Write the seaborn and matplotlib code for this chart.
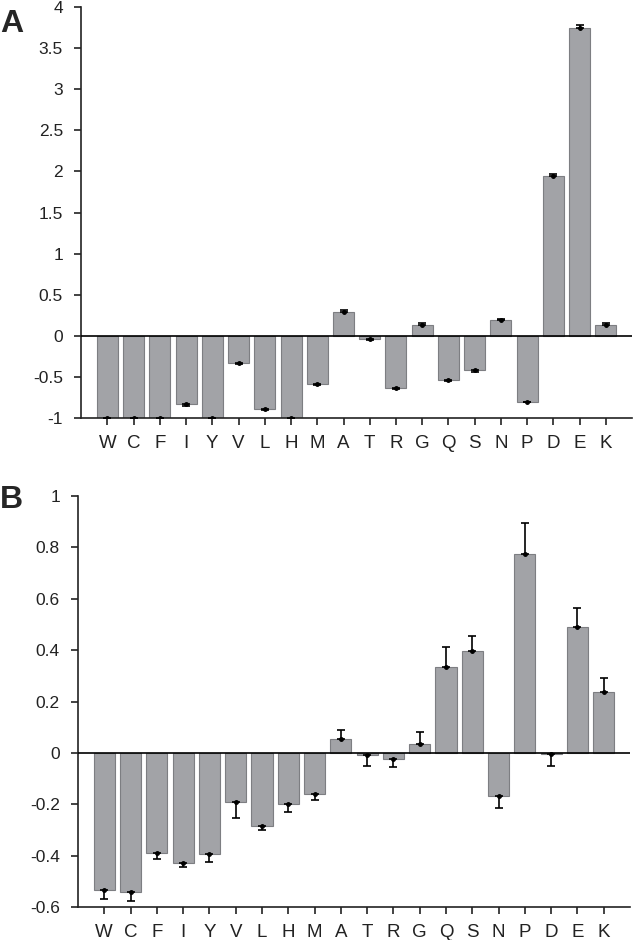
import matplotlib
matplotlib.use("Agg")
import matplotlib.pyplot as plt
import seaborn as sns
import numpy as np

residues = ['W', 'C', 'F', 'I', 'Y', 'V', 'L', 'H', 'M', 'A',
            'T', 'R', 'G', 'Q', 'S', 'N', 'P', 'D', 'E', 'K']

# panel A
vals_a = [-1.0, -1.0, -1.0, -0.83, -1.0, -0.33, -0.89, -1.0, -0.59, 0.29,
          -0.04, -0.64, 0.13, -0.54, -0.42, 0.19, -0.80, 1.94, 3.75, 0.13]
err_a = [0.01, 0.01, 0.01, 0.02, 0.01, 0.01, 0.01, 0.01, 0.01, 0.02,
         0.01, 0.01, 0.02, 0.01, 0.02, 0.02, 0.01, 0.03, 0.03, 0.02]

# panel B
vals_b = [-0.535, -0.542, -0.389, -0.428, -0.393, -0.193, -0.283, -0.199, -0.16, 0.053,
          -0.01, -0.023, 0.035, 0.336, 0.398, -0.166, 0.774, -0.005, 0.489, 0.236]
err_b = [0.032, 0.033, 0.025, 0.015, 0.03, 0.06, 0.016, 0.03, 0.025, 0.035,
         0.04, 0.03, 0.045, 0.077, 0.058, 0.05, 0.12, 0.045, 0.074, 0.054]

sns.set_style("ticks")
plt.rcParams['font.family'] = ['Liberation Sans', 'DejaVu Sans']

bar_color = '#a2a3a7'
edge_color = '#7d7e82'

fig = plt.figure(figsize=(6.34, 9.4), dpi=100)
ax_a = fig.add_axes([0.128, 0.5553, 0.869, 0.4372])
ax_b = fig.add_axes([0.123, 0.0351, 0.8707, 0.4372])


def draw_panel(ax, vals, errs, ylim, yticks):
    sns.barplot(x=residues, y=vals, color=bar_color, edgecolor=edge_color,
                linewidth=0.8, width=0.8, saturation=1, ax=ax)
    vals = np.array(vals)
    errs = np.array(errs)
    lower = np.where(vals < 0, errs, 0)
    upper = np.where(vals >= 0, errs, 0)
    ax.errorbar(np.arange(len(vals)), vals, yerr=[lower, upper], fmt='o',
                ms=2.5, color='black', ecolor='black', elinewidth=1.2,
                capsize=3, capthick=1.2, zorder=5)
    ax.axhline(0, color='black', lw=1.2, zorder=4)
    ax.set_xlim(-1, 20)
    ax.set_ylim(*ylim)
    ax.set_yticks(yticks)
    ax.set_yticklabels(['%g' % t for t in yticks])
    for side in ['top', 'right']:
        ax.spines[side].set_visible(False)
    for side in ['left', 'bottom']:
        ax.spines[side].set_linewidth(1.2)
        ax.spines[side].set_color('#222222')
    ax.tick_params(axis='both', length=5, width=1.2,
                   colors='#222222', labelcolor='#222222')
    ax.tick_params(axis='y', pad=8, labelsize=12.5)
    ax.tick_params(axis='x', pad=7.5, labelsize=13.5)
    ax.set_xlabel('')
    ax.set_ylabel('')


draw_panel(ax_a, vals_a, err_a, (-1, 4), np.arange(-1, 4.01, 0.5))
draw_panel(ax_b, vals_b, err_b, (-0.6, 1), np.round(np.arange(-0.6, 1.01, 0.2), 1))

fig.text(0.0, 0.975, 'A', fontsize=23, fontweight='bold', ha='left', va='center')
fig.text(0.0, 0.4686, 'B', fontsize=23, fontweight='bold', ha='left', va='center')

fig.savefig('out.png', dpi=100)
